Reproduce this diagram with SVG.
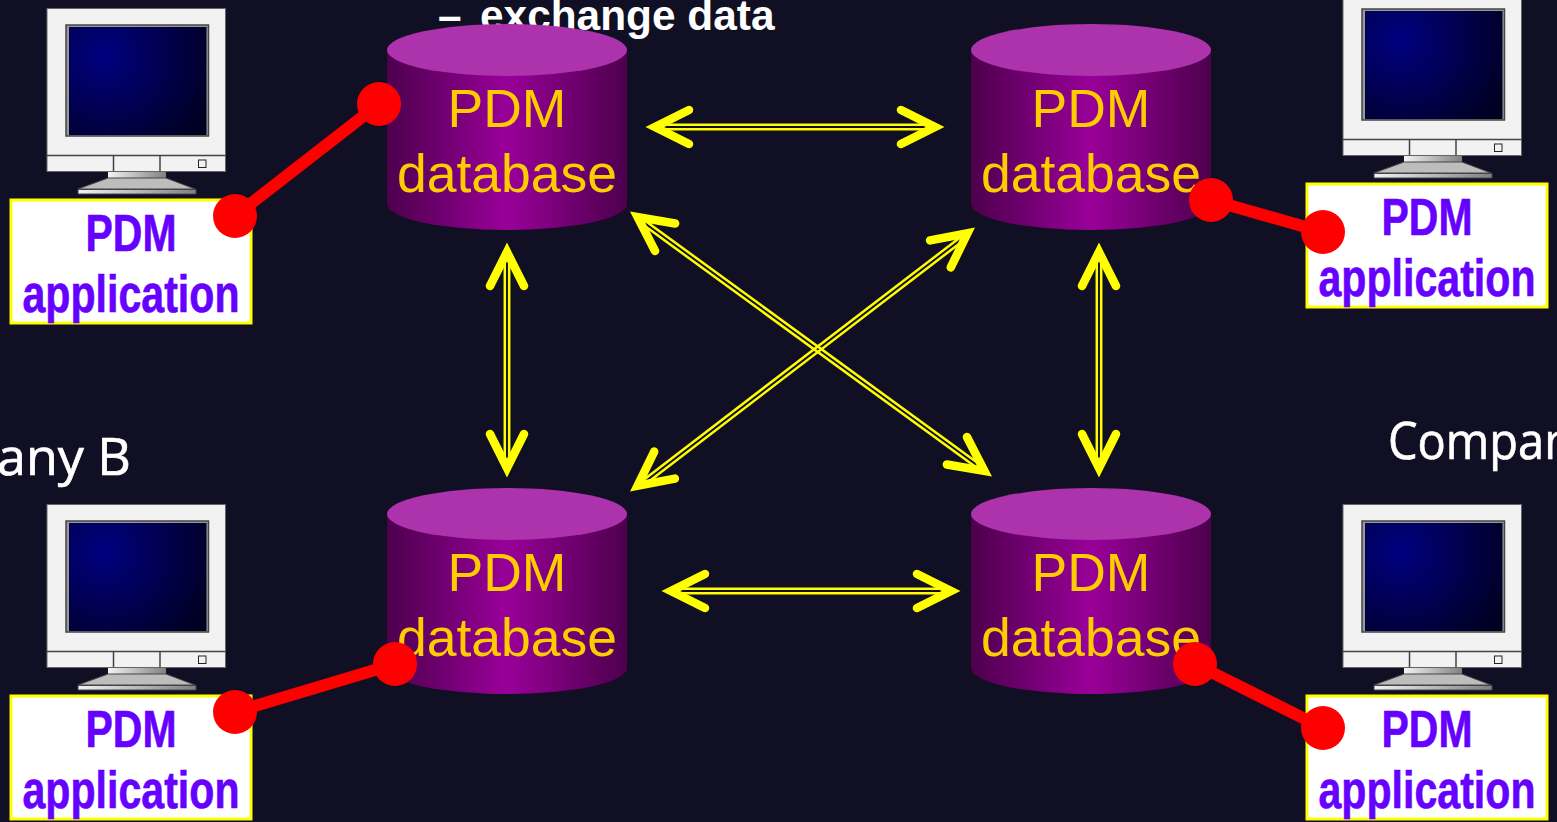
<svg xmlns="http://www.w3.org/2000/svg" width="1557" height="822" viewBox="0 0 1557 822">
<style>
.box{fill:#fff;stroke:#ffff00;stroke-width:3}
.app{font:bold 51px "Liberation Sans",Arial,sans-serif;fill:#6600ff;stroke:#6600ff;stroke-width:.6;text-anchor:middle}
.db{font:53.500px "Liberation Sans",Arial,sans-serif;fill:#ffcc00;text-anchor:middle}
.top{fill:#ac33ac}
.rail{fill:none;stroke:#ffff00;stroke-width:2.500}
.head{fill:none;stroke:none;marker-start:url(#ah);marker-end:url(#ah)}
.wire{stroke:#ff0000;stroke-width:12}
.dot{fill:#ff0000}
.hand{font:52px "Open Sans","DejaVu Sans",sans-serif;fill:#fff;stroke:#fff;stroke-width:.7}
.ml{stroke:#444;stroke-width:1.5}
.head-text{font:bold 42.400px "Liberation Sans",Arial,sans-serif;fill:#fff}
</style>
<defs>
<linearGradient id="cyl"><stop offset="0" stop-color="#4d004d"/><stop offset=".5" stop-color="#990099"/><stop offset="1" stop-color="#4d004d"/></linearGradient>
<radialGradient id="scr" gradientUnits="userSpaceOnUse" cx="105" cy="55" r="115"><stop offset="0" stop-color="#000080"/><stop offset="1" stop-color="#000022"/></radialGradient>
<linearGradient id="neck"><stop offset="0" stop-color="#f4f4f4"/><stop offset="1" stop-color="#808080"/></linearGradient>
<marker id="ah" markerUnits="userSpaceOnUse" markerWidth="60" markerHeight="60" refX="0" refY="0" viewBox="-50 -30 60 60" orient="auto-start-reverse" overflow="visible">
<path d="M-41 -17L-7 0L-41 17" fill="none" stroke="#ffff00" stroke-width="8.500" stroke-linecap="round" stroke-linejoin="miter"/>
</marker>
<g id="monitor">
<rect x="108" y="172" width="58" height="7" fill="url(#neck)"/>
<path d="M108 178H166L195 189H78Z" fill="#bdbdbd" stroke="#444"/>
<rect x="78" y="189.500" width="118" height="4.500" fill="url(#neck)" stroke="#444"/>
<rect x="47" y="8.500" width="178.500" height="163" fill="#f2f2f2" stroke="#666"/>
<rect x="66" y="25" width="142.500" height="111" fill="#999" stroke="#444" stroke-width="1.500"/>
<rect x="69" y="27" width="137.500" height="108" fill="url(#scr)"/>
<path class="ml" d="M47 155.500H225.500M113.500 155.500V171M160 155.500V171" fill="none"/>
<rect x="198.500" y="160" width="7.500" height="7.500" fill="#f2f2f2" stroke="#222"/>
</g>
<g id="cylinder">
<path d="M0 26V180A120 26 0 0 0 240 180V26Z" fill="url(#cyl)"/>
<ellipse class="top" cx="120" cy="26" rx="120" ry="26"/>
</g>
</defs>
<rect width="1557" height="822" fill="#100f23"/>
<g id="backdrop-text">
<text class="head-text" x="438" y="30">–</text>
<text class="head-text" x="480" y="30">exchange data</text>
<text class="hand" x="-3" y="475">any B</text>
<text class="hand" x="1388" y="459" textLength="185" lengthAdjust="spacingAndGlyphs">Compan</text>
</g>
<g id="app-tl"><use href="#monitor"/><rect class="box" x="11" y="200" width="240" height="123"/><text class="app" x="131" y="250.500" textLength="91" lengthAdjust="spacingAndGlyphs">PDM</text><text class="app" x="131" y="311.500" textLength="217" lengthAdjust="spacingAndGlyphs">application</text></g>
<g id="app-tr"><use href="#monitor" x="1296" y="-16"/><rect class="box" x="1307" y="184" width="240" height="123"/><text class="app" x="1427" y="234.500" textLength="91" lengthAdjust="spacingAndGlyphs">PDM</text><text class="app" x="1427" y="295.500" textLength="217" lengthAdjust="spacingAndGlyphs">application</text></g>
<g id="app-bl"><use href="#monitor" y="496"/><rect class="box" x="11" y="696" width="240" height="123"/><text class="app" x="131" y="746.500" textLength="91" lengthAdjust="spacingAndGlyphs">PDM</text><text class="app" x="131" y="807.500" textLength="217" lengthAdjust="spacingAndGlyphs">application</text></g>
<g id="app-br"><use href="#monitor" x="1296" y="496"/><rect class="box" x="1307" y="696" width="240" height="123"/><text class="app" x="1427" y="746.500" textLength="91" lengthAdjust="spacingAndGlyphs">PDM</text><text class="app" x="1427" y="807.500" textLength="217" lengthAdjust="spacingAndGlyphs">application</text></g>
<g id="db-tl"><use href="#cylinder" x="387" y="24"/><text class="db" x="507" y="127">PDM</text><text class="db" x="507" y="192">database</text></g>
<g id="db-tr"><use href="#cylinder" x="971" y="24"/><text class="db" x="1091" y="127">PDM</text><text class="db" x="1091" y="192">database</text></g>
<g id="db-bl"><use href="#cylinder" x="387" y="488"/><text class="db" x="507" y="591">PDM</text><text class="db" x="507" y="656">database</text></g>
<g id="db-br"><use href="#cylinder" x="971" y="488"/><text class="db" x="1091" y="591">PDM</text><text class="db" x="1091" y="656">database</text></g>
<g id="connectors">
<path class="rail" d="M656 124.800H934M656 129.200H934"/>
<path class="head" d="M648 127H942"/>
<path class="rail" d="M672 588.800H950M672 593.200H950"/>
<path class="head" d="M664 591H958"/>
<path class="rail" d="M504.800 253V467M509.200 253V467"/>
<path class="head" d="M507 245V475"/>
<path class="rail" d="M1096.800 253V467M1101.200 253V467"/>
<path class="head" d="M1099 245V475"/>
<path class="rail" d="M637.700 220.800L983.700 472.800M640.300 217.200L986.300 469.200"/>
<path class="head" d="M632 213L990 475"/>
<path class="rail" d="M637.300 484.700L966.300 232.700M640 488.200L969 236.200"/>
<path class="head" d="M632 490L973 229"/>
<g id="link-tl"><path class="wire" d="M379 104L235 216"/><circle class="dot" cx="379" cy="104" r="22"/><circle class="dot" cx="235" cy="216" r="22"/></g>
<g id="link-tr"><path class="wire" d="M1211 200L1323 232"/><circle class="dot" cx="1211" cy="200" r="22"/><circle class="dot" cx="1323" cy="232" r="22"/></g>
<g id="link-bl"><path class="wire" d="M395 664L235 712"/><circle class="dot" cx="395" cy="664" r="22"/><circle class="dot" cx="235" cy="712" r="22"/></g>
<g id="link-br"><path class="wire" d="M1195 664L1323 728"/><circle class="dot" cx="1195" cy="664" r="22"/><circle class="dot" cx="1323" cy="728" r="22"/></g>
</g>
</svg>
